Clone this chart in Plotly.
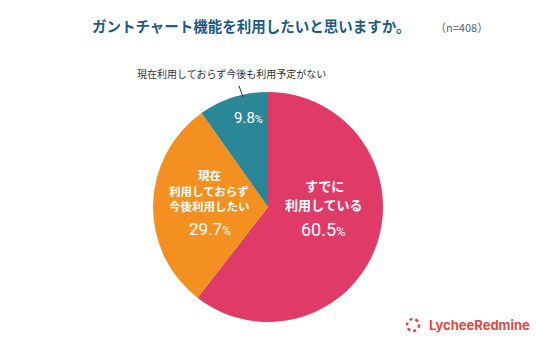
import plotly.graph_objects as go

labels = ["すでに利用している", "現在利用しておらず今後利用したい", "現在利用しておらず今後も利用予定がない"]
values = [60.5, 29.7, 9.8]
colors = ["#E03A67", "#F39020", "#2A8798"]
title_text = "ガントチャート機能を利用したいと思いますか。"
n_text = "（n=408）"
pink_lines = ["すでに", "利用している"]
orange_lines = ["現在", "利用しておらず", "今後利用したい"]

JP = "Noto Sans CJK JP"

fig = go.Figure(go.Pie(
    labels=labels, values=values, sort=False, direction="clockwise", rotation=0,
    marker=dict(colors=colors, line=dict(width=0)),
    textinfo="none", hoverinfo="skip", showlegend=False,
    domain=dict(x=[0.2854, 0.7146], y=[0.0612, 0.7318]),
))

def pct(v, big, small):
    return f"<span style='font-size:{big}px'>{v}</span><span style='font-size:{small}px'>%</span>"

def txt(x, y, t, size, color="white", family=JP, xanchor="center"):
    return dict(x=x/536, y=1-y/343, text=t, font=dict(family=family, size=size, color=color),
                showarrow=False, xanchor=xanchor, yanchor="middle")

ann = []
for t, y in zip(pink_lines, [185, 204]):
    ann.append(txt(324, y, f"<b>{t}</b>", 13))
ann.append(txt(323, 229, pct(values[0], 18, 13), 18, family="Roboto"))
for t, y in zip(orange_lines, [175, 191, 206]):
    ann.append(txt(209, y, f"<b>{t}</b>", 11.5))
ann.append(txt(210, 229, pct(values[1], 17, 12), 17, family="Roboto"))
ann.append(txt(248, 118, pct(values[2], 15, 11), 15, family="Roboto"))
ann.append(txt(232, 74, labels[2], 10, color="#333333"))
ann.append(txt(251, 25, f"<b>{title_text}</b>", 14.5, color="#1C5A8A"))
ann.append(txt(461, 27, n_text, 11, color="#4A6580"))
ann.append(txt(427, 325, "<b>LycheeRedmine</b>", 13, color="#E5473F", family="Inter", xanchor="left"))

shapes = [
    dict(type="line", xref="paper", yref="paper", x0=239/536, y0=1-86/343, x1=243/536, y1=1-97/343,
         line=dict(color="#333333", width=1)),
    dict(type="circle", xref="paper", yref="paper", x0=407/536, y0=1-331/343, x1=419/536, y1=1-319/343,
         line=dict(color="#E5473F", width=2.5, dash="dot")),
]

fig.update_layout(
    width=536, height=343, margin=dict(l=0, r=0, t=0, b=0),
    paper_bgcolor="white", plot_bgcolor="white",
    annotations=ann, shapes=shapes,
)
fig.write_html("out.html")
